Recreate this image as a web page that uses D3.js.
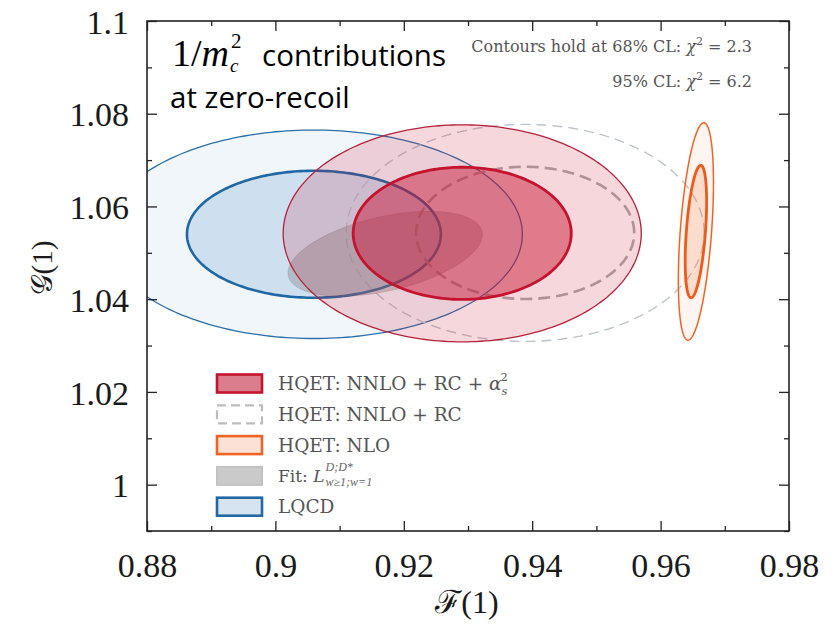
<!DOCTYPE html>
<html>
<head>
<meta charset="utf-8">
<script src="https://cdn.jsdelivr.net/npm/d3@7"></script>
<style>
  html, body { margin: 0; padding: 0; background: #fff; }
  svg { display: block; }
</style>
</head>
<body>
<svg id="chart" width="833" height="624"></svg>
<script>
// ---------------- data ----------------
const seriesNames = ["HQET: NNLO + RC + αs²", "HQET: NNLO + RC", "HQET: NLO", "Fit", "LQCD"];
const centerF = [0.9291, 0.9389, 0.9655, 0.9171, 0.9060];
const centerG = [1.0542, 1.0543, 1.0546, 1.0498, 1.0540];
const sigmaF  = [0.01120, 0.01120, 0.00110, 0.00998, 0.01304];
const sigmaG  = [0.00940, 0.00940, 0.00942, 0.00603, 0.00903];
const rho     = [0.0, 0.0, 0.45, 0.45, 0.0];
const chi2Levels = [2.3, 6.2];           // 68% CL, 95% CL
const fitLevels = [2.3];
const xMajorTicks = [0.88, 0.90, 0.92, 0.94, 0.96, 0.98];
const xTickLabels = ["0.88", "0.9", "0.92", "0.94", "0.96", "0.98"];
const xMinorTicks = [0.89, 0.91, 0.93, 0.95, 0.97];
const yMajorTicks = [1.00, 1.02, 1.04, 1.06, 1.08, 1.10];
const yTickLabels = ["1", "1.02", "1.04", "1.06", "1.08", "1.1"];
const yMinorTicks = [0.99, 1.01, 1.03, 1.05, 1.07, 1.09];

// ---------------- layout ----------------
const svg = d3.select("#chart");
const L = 147, R = 789, T = 21, B = 531;
const x = d3.scaleLinear().domain([0.88, 0.98]).range([L, R]);
const y = d3.scaleLinear().domain([0.99, 1.10]).range([B, T]);
const serif = "'Liberation Serif', 'DejaVu Serif', serif";
const serif2 = "'DejaVu Serif', 'Liberation Serif', serif";

svg.append("defs").append("clipPath").attr("id", "plotclip")
  .append("rect").attr("x", L).attr("y", T).attr("width", R - L).attr("height", B - T);

function ellipsePoints(i, c) {
  const n = 240, pts = [];
  const s = Math.sqrt(c);
  const k = Math.sqrt(1 - rho[i] * rho[i]);
  for (let j = 0; j <= n; j++) {
    const t = 2 * Math.PI * j / n;
    pts.push([centerF[i] + s * sigmaF[i] * Math.cos(t),
              centerG[i] + s * sigmaG[i] * (rho[i] * Math.cos(t) + k * Math.sin(t))]);
  }
  return pts;
}
const line = d3.line().x(d => x(d[0])).y(d => y(d[1])).curve(d3.curveLinearClosed);

const plot = svg.append("g").attr("clip-path", "url(#plotclip)");

// style per series: [outer, inner]
const styles = {
  0: [{fill: "rgba(200,20,50,0.17)", stroke: "#b5213b", sw: 1.3},
      {fill: "rgba(200,20,50,0.47)", stroke: "#c5122e", sw: 2.8}],
  1: [{fill: "none", stroke: "#bcc3c9", sw: 1.4, dash: "10,6"},
      {fill: "none", stroke: "#ababab", sw: 2.6, dash: "12,6"}],
  2: [{fill: "rgba(245,120,60,0.07)", stroke: "#ee6426", sw: 1.5},
      {fill: "rgba(245,120,60,0.20)", stroke: "#ec5a1c", sw: 2.8}],
  4: [{fill: "rgba(60,130,190,0.07)", stroke: "#2a6fa8", sw: 1.3},
      {fill: "rgba(60,130,190,0.19)", stroke: "#1f68a4", sw: 2.6}]
};

function drawSeries(i) {
  const st = styles[i];
  [1, 0].forEach(li => {
    const s = st[li === 1 ? 0 : 1];
    plot.append("path")
      .attr("d", line(ellipsePoints(i, chi2Levels[li])))
      .attr("fill", s.fill)
      .attr("stroke", s.stroke)
      .attr("stroke-width", s.sw)
      .attr("stroke-dasharray", s.dash || null);
  });
}
drawSeries(4);
drawSeries(1);
fitLevels.forEach(c => {
  plot.append("path")
    .attr("d", line(ellipsePoints(3, c)))
    .attr("fill", "rgba(128,128,128,0.36)")
    .attr("stroke", "rgba(110,110,110,0.25)")
    .attr("stroke-width", 1);
});
drawSeries(0);
drawSeries(2);

// ---------------- axes ----------------
function styleAxis(g) {
  g.select(".domain").remove();
  g.selectAll(".tick line").attr("stroke", "#222").attr("stroke-width", 1.3);
  g.selectAll(".tick text").attr("fill", "#1a1a1a").attr("font-family", serif).attr("font-size", 34);
}
svg.append("g").attr("transform", `translate(0,${B})`)
  .call(d3.axisBottom(x).tickValues(xMajorTicks).tickSizeInner(-10).tickSizeOuter(0).tickPadding(22)
        .tickFormat((d, i) => xTickLabels[i])).call(styleAxis);
svg.append("g").attr("transform", `translate(0,${B})`)
  .call(d3.axisBottom(x).tickValues(xMinorTicks).tickSizeInner(-5).tickSizeOuter(0).tickFormat("")).call(styleAxis);
svg.append("g").attr("transform", `translate(0,${T})`)
  .call(d3.axisTop(x).tickValues(xMajorTicks).tickSizeInner(-10).tickSizeOuter(0).tickFormat("")).call(styleAxis);
svg.append("g").attr("transform", `translate(0,${T})`)
  .call(d3.axisTop(x).tickValues(xMinorTicks).tickSizeInner(-5).tickSizeOuter(0).tickFormat("")).call(styleAxis);
const yAx = svg.append("g").attr("transform", `translate(${L},0)`)
  .call(d3.axisLeft(y).tickValues(yMajorTicks).tickSizeInner(-10).tickSizeOuter(0).tickPadding(18)
        .tickFormat((d, i) => yTickLabels[i])).call(styleAxis);
yAx.selectAll(".tick text").attr("dy", "0.36em");
svg.append("g").attr("transform", `translate(${L},0)`)
  .call(d3.axisLeft(y).tickValues(yMinorTicks).tickSizeInner(-5).tickSizeOuter(0).tickFormat("")).call(styleAxis);
svg.append("g").attr("transform", `translate(${R},0)`)
  .call(d3.axisRight(y).tickValues(yMajorTicks).tickSizeInner(-10).tickSizeOuter(0).tickFormat("")).call(styleAxis);
svg.append("g").attr("transform", `translate(${R},0)`)
  .call(d3.axisRight(y).tickValues(yMinorTicks).tickSizeInner(-5).tickSizeOuter(0).tickFormat("")).call(styleAxis);

svg.append("rect").attr("x", L).attr("y", T).attr("width", R - L).attr("height", B - T)
  .attr("fill", "none").attr("stroke", "#222").attr("stroke-width", 1.6);

// axis titles
svg.append("text").attr("x", 467).attr("y", 613).attr("text-anchor", "middle")
  .attr("font-family", serif).attr("font-size", 32).attr("fill", "#1a1a1a").text("ℱ(1)");
svg.append("text").attr("transform", "translate(52,268) rotate(-90)").attr("text-anchor", "middle")
  .attr("font-family", serif).attr("font-size", 29).attr("fill", "#1a1a1a").text("𝒢(1)");

// ---------------- annotations ----------------
const ann = svg.append("g");
const t1 = ann.append("text").attr("x", 172).attr("y", 66).attr("font-family", serif)
  .attr("font-size", 38).attr("fill", "#000").text("1/");
let xx = 172 + t1.node().getComputedTextLength();
const tm = ann.append("text").attr("x", xx).attr("y", 66).attr("font-family", serif)
  .attr("font-style", "italic").attr("font-size", 38).attr("fill", "#000").text("m");
xx += tm.node().getComputedTextLength() + 1;
ann.append("text").attr("x", xx).attr("y", 72).attr("font-family", serif)
  .attr("font-style", "italic").attr("font-size", 19).attr("fill", "#000").text("c");
ann.append("text").attr("x", xx + 1).attr("y", 48).attr("font-family", serif)
  .attr("font-size", 21).attr("fill", "#000").text("2");
ann.append("text").attr("x", 262).attr("y", 66).attr("font-family", "'Open Sans', sans-serif")
  .attr("font-size", 29.5).attr("fill", "#000").text("contributions");
ann.append("text").attr("x", 170).attr("y", 108).attr("font-family", "'Open Sans', sans-serif")
  .attr("font-size", 29.5).attr("fill", "#000").text("at zero-recoil");

function chiLine(yb, pre, val) {
  const t = ann.append("text").attr("x", 752).attr("y", yb).attr("text-anchor", "end")
    .attr("font-family", serif2).attr("font-size", 16).attr("fill", "#555");
  t.append("tspan").text(pre);
  t.append("tspan").attr("font-style", "italic").text("χ");
  t.append("tspan").attr("font-size", 11).attr("dy", -7).text("2");
  t.append("tspan").attr("dy", 7).text(" = " + val);
}
chiLine(52, "Contours hold at 68% CL: ", "2.3");
chiLine(87, "95% CL: ", "6.2");

// ---------------- legend ----------------
const lg = svg.append("g");
const legX = 217, legW = 45, legH = 18, legY0 = 374.5, legDy = 30.8, txtX = 278;
const legStyles = [
  {fill: "#db7d8c", stroke: "#c5122e", sw: 2.6},
  {fill: "#fff", stroke: "#bdbdbd", sw: 2.2, dash: "9,5"},
  {fill: "#fbe1d6", stroke: "#ee6426", sw: 2.6},
  {fill: "#cacaca", stroke: "#c2c2c2", sw: 2.0},
  {fill: "#d5e4f0", stroke: "#1f68a4", sw: 2.6}
];
seriesNames.forEach((nm, i) => {
  const yy = legY0 + i * legDy;
  const s = legStyles[i];
  lg.append("rect").attr("x", legX).attr("y", yy).attr("width", legW).attr("height", legH)
    .attr("fill", s.fill).attr("stroke", s.stroke).attr("stroke-width", s.sw)
    .attr("stroke-dasharray", s.dash || null);
  const t = lg.append("text").attr("x", txtX).attr("y", yy + legH / 2 + 6.5)
    .attr("font-family", serif2).attr("font-size", 18.5).attr("fill", "#555");
  if (i === 0) {
    t.append("tspan").text("HQET: NNLO + RC + ");
    t.append("tspan").attr("font-style", "italic").text("α");
    t.append("tspan").attr("font-style", "italic").attr("font-size", 11.5).attr("dy", 5).text("s");
    t.append("tspan").attr("font-size", 11.5).attr("dx", -7).attr("dy", -14).text("2");
  } else if (i === 3) {
    t.append("tspan").attr("font-size", 17).text("Fit: ");
    t.append("tspan").attr("font-style", "italic").attr("font-size", 17).text("L");
    const tx = t.node().getComputedTextLength();
    lg.append("text").attr("x", txtX + tx + 1).attr("y", yy + 4)
      .attr("font-family", serif).attr("font-style", "italic").attr("font-size", 12)
      .attr("fill", "#666").text("D;D*");
    lg.append("text").attr("x", txtX + tx + 1).attr("y", yy + legH + 1)
      .attr("font-family", serif).attr("font-style", "italic").attr("font-size", 12)
      .attr("fill", "#666").text("w≥1;w=1");
  } else {
    t.text(nm);
  }
});
</script>
</body>
</html>
